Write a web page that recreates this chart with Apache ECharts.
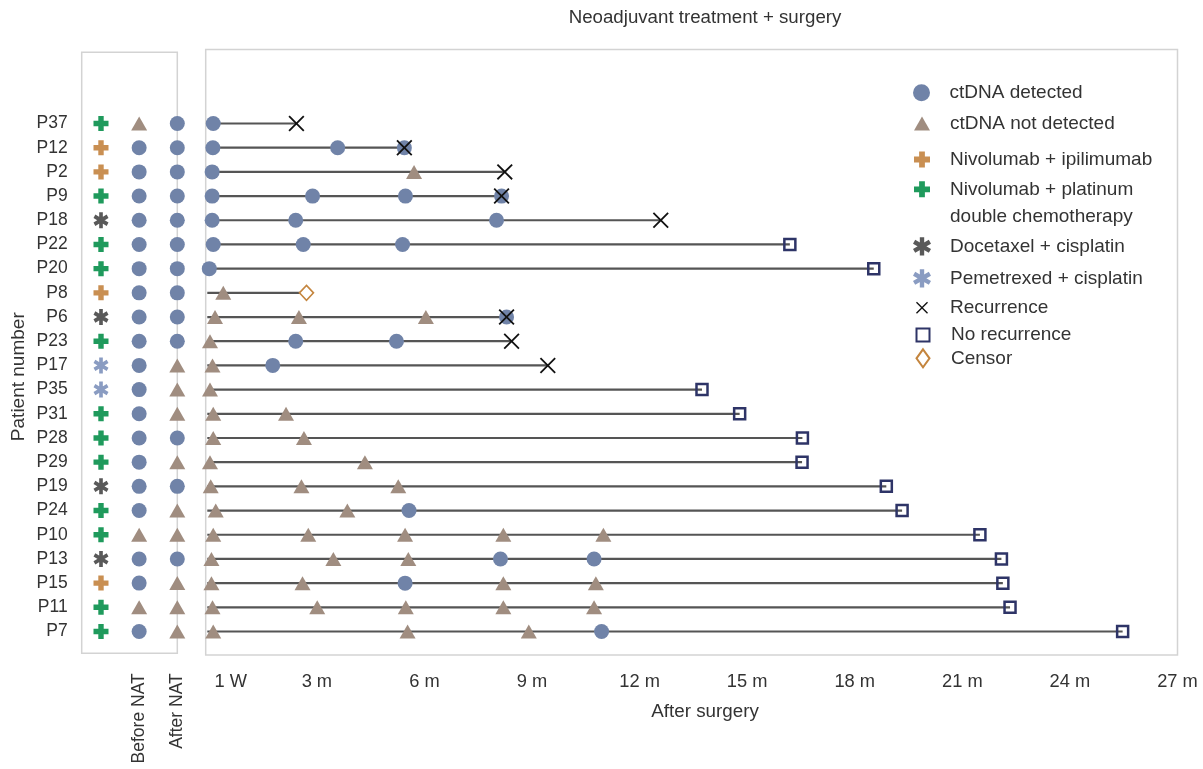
<!DOCTYPE html>
<html>
<head>
<meta charset="utf-8">
<script src="https://cdn.jsdelivr.net/npm/echarts@6/dist/echarts.min.js"></script>
<style>html,body{margin:0;padding:0;background:#fff}#c{width:1203px;height:769px}</style>
</head>
<body>
<div id="c"></div>
<script>
// ---------- data ----------
const patients = ['P37','P12','P2','P9','P18','P22','P20','P8','P6','P23','P17','P35','P31','P28','P29','P19','P24','P10','P13','P15','P11','P7'];
// NI = Nivolumab + ipilimumab, NP = Nivolumab + platinum double chemotherapy, DC = Docetaxel + cisplatin, PC = Pemetrexed + cisplatin
const treatment = ['NP','NI','NI','NP','DC','NP','NP','NI','DC','NP','PC','PC','NP','NP','NP','DC','NP','NP','DC','NI','NP','NP'];
// D = ctDNA detected, N = ctDNA not detected
const beforeNAT = ['N','D','D','D','D','D','D','D','D','D','D','D','D','D','D','D','D','N','D','D','N','D'];
const afterNAT  = ['D','D','D','D','D','D','D','D','D','D','N','N','N','D','N','D','N','N','D','N','N','N'];
// months after surgery
const sampleTimes = [
  [0.11],
  [0.10, 3.58, 5.44],
  [0.08, 5.71],
  [0.08, 2.88, 5.47, 8.15],
  [0.08, 2.41, 8.01],
  [0.11, 2.62, 5.39],
  [0.00],
  [0.39],
  [0.16, 2.50, 6.04, 8.29],
  [0.02, 2.41, 5.22],
  [0.09, 1.77],
  [0.02],
  [0.11, 2.14],
  [0.11, 2.64],
  [0.02, 4.34],
  [0.04, 2.57, 5.27],
  [0.18, 3.85, 5.57],
  [0.11, 2.76, 5.46, 8.20, 10.99],
  [0.06, 3.46, 5.55, 8.12, 10.73],
  [0.06, 2.60, 5.46, 8.20, 10.78],
  [0.09, 3.01, 5.48, 8.20, 10.73],
  [0.11, 5.53, 8.91, 10.94]
];
const sampleStatus = [
  ['D'],
  ['D','D','D'],
  ['D','N'],
  ['D','D','D','D'],
  ['D','D','D'],
  ['D','D','D'],
  ['D'],
  ['N'],
  ['N','N','N','D'],
  ['N','D','D'],
  ['N','D'],
  ['N'],
  ['N','N'],
  ['N','N'],
  ['N','N'],
  ['N','N','N'],
  ['N','N','D'],
  ['N','N','N','N','N'],
  ['N','N','N','D','D'],
  ['N','N','D','N','N'],
  ['N','N','N','N','N'],
  ['N','N','N','D']
];
// R = Recurrence, NR = No recurrence, C = Censor
const outcomeTime = [2.43, 5.44, 8.24, 8.15, 12.59, 16.19, 18.53, 2.71, 8.29, 8.43, 9.44, 13.74, 14.79, 16.54, 16.53, 18.88, 19.32, 21.49, 22.09, 22.13, 22.33, 25.47];
const outcomeType = ['R','R','R','R','R','NR','NR','C','R','R','R','NR','NR','NR','NR','NR','NR','NR','NR','NR','NR','NR'];
const tickValues = [0.6, 3, 6, 9, 12, 15, 18, 21, 24, 27];
const tickLabels = ['1 W','3 m','6 m','9 m','12 m','15 m','18 m','21 m','24 m','27 m'];
const panelColumns = ['', 'Before NAT', 'After NAT'];

// ---------- styles ----------
const FONT = '"Liberation Sans", Arial, Helvetica, sans-serif';
const TXT = '#333333';
const C_DET = '#7083a8', C_NOT = '#a08d80';
const PLUS = 'path://M32,0H68V32H100V68H68V100H32V68H0V32H32Z';
const XMARK = 'path://M0,8L8,0L50,42L92,0L100,8L58,50L100,92L92,100L50,58L8,100L0,92L42,50Z';
const AST = 'path://M72,10L72,110L48,110L48,10Z M109.3,74.61L97.3,95.39L10.7,45.39L22.7,24.61Z M10.7,74.61L97.3,24.61L109.3,45.39L22.7,95.39Z';
const treatDefs = [
  {code:'NI', name:'Nivolumab + ipilimumab', color:'#c98f52', symbol:PLUS, size:[15,15]},
  {code:'NP', name:'Nivolumab + platinum double chemotherapy', color:'#1f9a5c', symbol:PLUS, size:[15,15]},
  {code:'DC', name:'Docetaxel + cisplatin', color:'#595959', symbol:AST, size:[15,16]},
  {code:'PC', name:'Pemetrexed + cisplatin', color:'#8a9cc2', symbol:AST, size:[15,16]}
];

// ---------- derived point lists ----------
const detMain = [], notMain = [];
sampleTimes.forEach((ts, i) => ts.forEach((t, j) => {
  (sampleStatus[i][j] === 'D' ? detMain : notMain).push([t, i]);
}));
const detLeft = [], notLeft = [];
beforeNAT.forEach((s, i) => (s === 'D' ? detLeft : notLeft).push([1, i]));
afterNAT.forEach((s, i) => (s === 'D' ? detLeft : notLeft).push([2, i]));
const pick = code => outcomeTime.map((t, i) => outcomeType[i] === code ? [t, i] : null).filter(Boolean);

const series = [
  {
    type: 'custom', name: 'follow-up', xAxisIndex: 0, yAxisIndex: 0, silent: true, z: 1,
    data: patients.map((p, i) => [0, outcomeTime[i], i]),
    encode: {x: [0, 1], y: 2},
    renderItem: (params, api) => {
      const a = api.coord([api.value(0), api.value(2)]);
      const b = api.coord([api.value(1), api.value(2)]);
      return {type: 'line', shape: {x1: a[0] - 2, y1: a[1], x2: b[0], y2: b[1]}, style: {stroke: '#555555', lineWidth: 2.2}};
    }
  },
  {type:'scatter', name:'ctDNA detected', xAxisIndex:0, yAxisIndex:0, symbol:'circle', symbolSize:15, z:2,
   itemStyle:{color:C_DET, opacity:1}, data: detMain},
  {type:'scatter', name:'ctDNA not detected', xAxisIndex:0, yAxisIndex:0, symbol:'triangle', symbolSize:[16,14], z:2,
   itemStyle:{color:C_NOT, opacity:1}, data: notMain},
  {type:'scatter', name:'ctDNA detected', xAxisIndex:1, yAxisIndex:1, symbol:'circle', symbolSize:15, z:2,
   itemStyle:{color:C_DET, opacity:1}, data: detLeft},
  {type:'scatter', name:'ctDNA not detected', xAxisIndex:1, yAxisIndex:1, symbol:'triangle', symbolSize:[16,14], z:2,
   itemStyle:{color:C_NOT, opacity:1}, data: notLeft},
  {type:'scatter', name:'Recurrence', xAxisIndex:0, yAxisIndex:0, symbol:XMARK, symbolSize:16, z:4,
   itemStyle:{color:'#111111', opacity:1}, data: pick('R')},
  {type:'scatter', name:'No recurrence', xAxisIndex:0, yAxisIndex:0, symbol:'rect', symbolSize:11, z:4,
   itemStyle:{color:'rgba(255,255,255,0)', borderColor:'#2e3467', borderWidth:2.5, opacity:1}, data: pick('NR')},
  {type:'scatter', name:'Censor', xAxisIndex:0, yAxisIndex:0, symbol:'diamond', symbolSize:[14,15], z:4,
   itemStyle:{color:'#ffffff', borderColor:'#c4853e', borderWidth:1.6, opacity:1}, data: pick('C')}
];
treatDefs.forEach(d => {
  series.push({type:'scatter', name:d.name, xAxisIndex:1, yAxisIndex:1, symbol:d.symbol, symbolSize:d.size, z:3,
    itemStyle:{color:d.color, opacity:1},
    data: treatment.map((t, i) => t === d.code ? [0, i] : null).filter(Boolean)});
});

// ---------- legends (one per row to match the reference spacing) ----------
const legendRows = [
  {name:'ctDNA detected', cy:92.7, w:18, h:17},
  {name:'ctDNA not detected', cy:123.5, w:16, h:14},
  {name:'Nivolumab + ipilimumab', cy:159.5, w:16, h:16},
  {name:'Nivolumab + platinum double chemotherapy', cy:189.3, w:16, h:16, two:true},
  {name:'Docetaxel + cisplatin', cy:246.3, w:18, h:19},
  {name:'Pemetrexed + cisplatin', cy:278.3, w:18, h:19},
  {name:'Recurrence', cy:307.7, w:12, h:12},
  {name:'No recurrence', cy:335, w:13, h:13},
  {name:'Censor', cy:358.3, w:13, h:18}
];
const legends = legendRows.map(r => {
  const lh = r.two ? 27.4 : 22;
  const pad = 23 - r.w / 2;
  return {
    data: [r.name], orient: 'vertical', selectedMode: false, padding: 0,
    left: 922 - r.w / 2,
    top: r.two ? r.cy - 41.1 : r.cy - 11,
    itemWidth: r.w, itemHeight: r.h,
    formatter: r.two ? () => ' \nNivolumab + platinum\ndouble chemotherapy' : undefined,
    textStyle: {fontSize: 19, color: TXT, fontFamily: FONT, lineHeight: lh, padding: [0, 0, 0, pad]}
  };
});

const option = {
  backgroundColor: '#ffffff',
  animation: false,
  textStyle: {fontFamily: FONT},
  title: {text: 'Neoadjuvant treatment + surgery', left: 705, textAlign: 'center', top: 8, padding: 0,
          textStyle: {fontSize: 18.7, fontWeight: 'normal', color: TXT, fontFamily: FONT}},
  legend: legends,
  grid: [
    {left: 205.7, top: 49.5, width: 971.8, height: 605.5, show: true, borderColor: '#d3d3d3', borderWidth: 1.5, containLabel: false, outerBoundsMode: 'none'},
    {left: 81.7, top: 52.3, width: 95.6, height: 601, show: true, borderColor: '#d3d3d3', borderWidth: 1.5, containLabel: false, outerBoundsMode: 'none'}
  ],
  xAxis: [
    {gridIndex: 0, type: 'value', min: -0.1, max: 27,
     axisLine: {show: false}, axisTick: {show: false}, splitLine: {show: false},
     axisLabel: {customValues: tickValues, formatter: v => tickLabels[tickValues.indexOf(v)], fontSize: 18.3, color: TXT, margin: 18, fontFamily: FONT},
     name: 'After surgery', nameLocation: 'middle', nameGap: 47,
     nameTextStyle: {fontSize: 18.8, color: TXT, fontFamily: FONT, padding: [0, 0, 0, 27]}},
    {gridIndex: 1, type: 'value', min: -0.506, max: 2.0,
     axisLine: {show: false}, axisTick: {show: false}, splitLine: {show: false},
     axisLabel: {customValues: [1, 2], formatter: v => panelColumns[v], rotate: 90, fontSize: 17.5, color: TXT, margin: 20, fontFamily: FONT}}
  ],
  yAxis: [
    {gridIndex: 0, type: 'value', inverse: true, min: -3.059, max: 21.971,
     axisLine: {show: false}, axisTick: {show: false}, splitLine: {show: false}, axisLabel: {show: false}},
    {gridIndex: 1, type: 'value', inverse: true, min: -2.943, max: 21.901,
     axisLine: {show: false}, axisTick: {show: false}, splitLine: {show: false},
     axisLabel: {customValues: patients.map((p, i) => i), formatter: v => patients[v], fontSize: 17.5, color: TXT, margin: 14, fontFamily: FONT}}
  ],
  graphic: [
    {type: 'text', x: 18.5, y: 376.7, rotation: Math.PI / 2,
     style: {text: 'Patient number', fontSize: 19, fill: TXT, fontFamily: FONT, textAlign: 'center', textVerticalAlign: 'middle'}}
  ],
  series: series
};

const chart = echarts.init(document.getElementById('c'), null, {renderer: 'canvas'});
chart.setOption(option);
</script>
</body>
</html>
